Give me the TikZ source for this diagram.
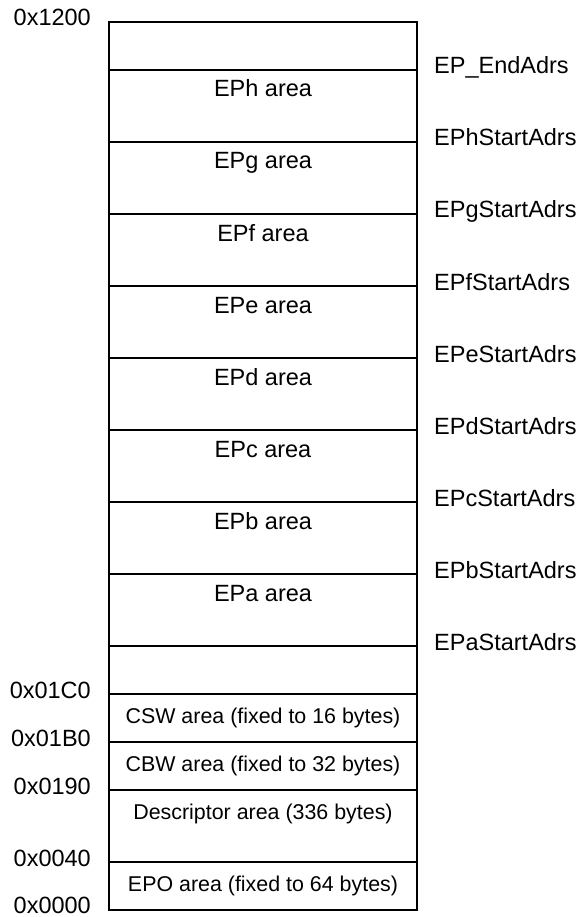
\documentclass[tikz,border=0pt]{standalone}
\usepackage{fontspec}
\setmainfont{Liberation Sans}
\begin{document}
\begin{tikzpicture}[x=1pt,y=-1pt,
  sec/.style={draw, line width=1.4pt, minimum width=308pt, inner sep=0pt, outer sep=0pt, anchor=north west},
  big/.style={font=\fontsize{23.5}{28}\selectfont, inner sep=0pt},
  small/.style={font=\fontsize{21.4}{26}\selectfont, inner sep=0pt},
  arealbl/.style={big, anchor=base},
  smalllbl/.style={small, anchor=base},
  rlbl/.style={big, anchor=base west},
  llbl/.style={big, anchor=base east}]
\useasboundingbox (0,0) rectangle (578,917);
% sections
\node[sec, minimum height=48pt] (top) at (109,22) {};
\node[sec, minimum height=72pt] (h) at (top.south west) {};
\node[sec, minimum height=72pt] (g) at (h.south west) {};
\node[sec, minimum height=72pt] (f) at (g.south west) {};
\node[sec, minimum height=72pt] (e) at (f.south west) {};
\node[sec, minimum height=72pt] (d) at (e.south west) {};
\node[sec, minimum height=72pt] (c) at (d.south west) {};
\node[sec, minimum height=72pt] (b) at (c.south west) {};
\node[sec, minimum height=72pt] (a) at (b.south west) {};
\node[sec, minimum height=48pt] (free) at (a.south west) {};
\node[sec, minimum height=48pt] (csw) at (free.south west) {};
\node[sec, minimum height=48pt] (cbw) at (csw.south west) {};
\node[sec, minimum height=72pt] (desc) at (cbw.south west) {};
\node[sec, minimum height=48pt] (epo) at (desc.south west) {};
% area labels
\node[arealbl] (hl) at ([yshift=-27pt]h.north) {EPh area};
\node[arealbl] (gl) at ([yshift=-27pt]g.north) {EPg area};
\node[arealbl] (fl) at ([yshift=-27pt]f.north) {EPf area};
\node[arealbl] (el) at ([yshift=-27pt]e.north) {EPe area};
\node[arealbl] (dl) at ([yshift=-27pt]d.north) {EPd area};
\node[arealbl] (cl) at ([yshift=-27pt]c.north) {EPc area};
\node[arealbl] (bl) at ([yshift=-27pt]b.north) {EPb area};
\node[arealbl] (al) at ([yshift=-27pt]a.north) {EPa area};
\node[smalllbl] (cswl) at ([yshift=-29.5pt]csw.north) {CSW area (fixed to 16 bytes)};
\node[smalllbl] (cbwl) at ([yshift=-29.5pt]cbw.north) {CBW area (fixed to 32 bytes)};
\node[smalllbl] (descl) at ([yshift=-29.5pt]desc.north) {Descriptor area (336 bytes)};
\node[smalllbl] (epol) at ([yshift=-29.5pt]epo.north) {EPO area (fixed to 64 bytes)};
% right address labels
\node[rlbl] (rh) at ([xshift=17pt,yshift=-4pt]h.north east) {EP\_EndAdrs};
\node[rlbl] (rg) at ([xshift=17pt,yshift=-4pt]g.north east) {EPhStartAdrs};
\node[rlbl] (rf) at ([xshift=17pt,yshift=-4pt]f.north east) {EPgStartAdrs};
\node[rlbl] (re) at ([xshift=17pt,yshift=-4pt]e.north east) {EPfStartAdrs};
\node[rlbl] (rd) at ([xshift=17pt,yshift=-4pt]d.north east) {EPeStartAdrs};
\node[rlbl] (rc) at ([xshift=17pt,yshift=-4pt]c.north east) {EPdStartAdrs};
\node[rlbl] (rb) at ([xshift=17pt,yshift=-4pt]b.north east) {EPcStartAdrs};
\node[rlbl] (ra) at ([xshift=17pt,yshift=-4pt]a.north east) {EPbStartAdrs};
\node[rlbl] (rfree) at ([xshift=17pt,yshift=-4pt]free.north east) {EPaStartAdrs};
% left address labels
\node[llbl] (l1200) at ([xshift=-18pt,yshift=-3.5pt]top.north west) {0x1200};
\node[llbl] (l01c0) at ([xshift=-18pt,yshift=-4pt]csw.north west) {0x01C0};
\node[llbl] (l01b0) at ([xshift=-18pt,yshift=-4pt]cbw.north west) {0x01B0};
\node[llbl] (l0190) at ([xshift=-18pt,yshift=-4pt]desc.north west) {0x0190};
\node[llbl] (l0040) at ([xshift=-18pt,yshift=-4pt]epo.north west) {0x0040};
\node[llbl] (l0000) at ([xshift=-18pt,yshift=-3pt]epo.south west) {0x0000};
\end{tikzpicture}
\end{document}
